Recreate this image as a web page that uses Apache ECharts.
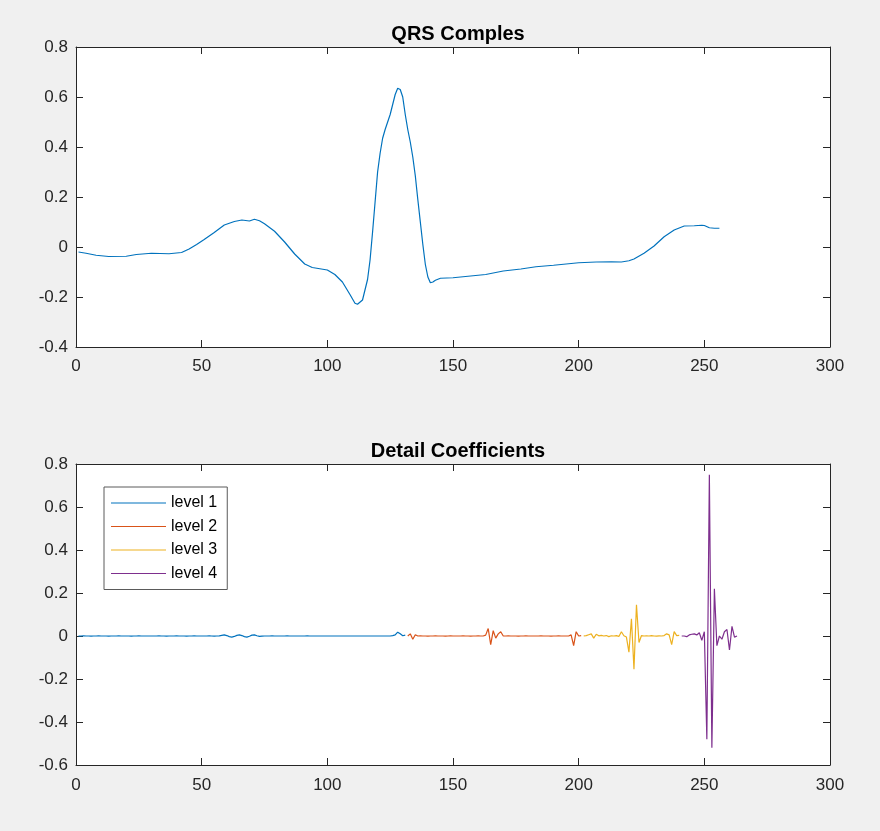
<!DOCTYPE html>
<html>
<head>
<meta charset="utf-8">
<script src="https://cdn.jsdelivr.net/npm/echarts@6/dist/echarts.min.js"></script>
<style>
    html, body { margin: 0; padding: 0; background: #f0f0f0; }
    #chart { width: 880px; height: 831px; }
</style>
</head>
<body>
<div id="chart"></div>
<script>
// top plot: QRS complex, [sample, value]
const qrsX = [1, 4, 8, 13, 20, 24, 30, 37, 42, 45, 48, 51, 55, 59, 63, 66, 69, 71, 73, 75,
    79, 83, 87, 91, 94, 97, 100, 103, 106, 109, 111, 112, 114, 116, 117, 118, 119, 120, 121, 122,
    123, 124, 125, 126, 127, 128, 129, 130, 131, 132, 133, 134, 135, 136, 137, 138, 139, 140, 141, 142,
    143, 145, 150, 157, 163, 170, 177, 183, 190, 200, 207, 213, 217, 220, 222, 226, 230, 234, 238, 242,
    246, 249, 250, 252, 254, 256];
const qrsY = [-0.02, -0.025, -0.033, -0.038, -0.037, -0.03, -0.025, -0.027, -0.022, -0.008, 0.01, 0.03, 0.058, 0.088, 0.102, 0.108, 0.104, 0.111, 0.105, 0.093,
    0.063, 0.02, -0.028, -0.068, -0.082, -0.087, -0.092, -0.11, -0.14, -0.19, -0.225, -0.229, -0.212, -0.13, -0.052, 0.06, 0.18, 0.3, 0.375, 0.435,
    0.47, 0.5, 0.53, 0.57, 0.61, 0.635, 0.63, 0.6, 0.53, 0.47, 0.42, 0.36, 0.285, 0.19, 0.1, 0.01, -0.07, -0.12, -0.143, -0.14,
    -0.133, -0.125, -0.123, -0.116, -0.11, -0.096, -0.088, -0.079, -0.073, -0.063, -0.06, -0.059, -0.06, -0.055, -0.048, -0.025, 0.004, 0.041, 0.068, 0.084,
    0.085, 0.087, 0.086, 0.077, 0.075, 0.075];

// bottom plot: detail coefficients, concatenated level after level
const levelNames = ['level 1', 'level 2', 'level 3', 'level 4'];
const levelStart = [1, 132, 202, 241];
const level1 = [
    -0.001, 0, 0.001, 0, 0, -0.001, 0, 0, 0.001, 0,
    0, 0, -0.001, 0, 0, 0, 0.001, 0, 0, 0,
    0, -0.001, 0, 0, 0.001, 0, 0, 0, 0, 0,
    0, 0, 0.001, 0, 0, -0.001, 0, 0, 0, 0.001,
    0, 0, 0, -0.001, 0, 0, 0.001, 0, 0, 0,
    0, 0, 0.001, 0, -0.001, 0, 0.001,
    0.003, 0.005, 0.002, -0.003, -0.005, -0.002, 0.003, 0.005, 0.002, -0.003, -0.005, -0.001, 0.004, 0.005, 0.001,
    -0.002, -0.001, 0, 0, 0, 0.001, 0, 0,
    0, 0, 0, 0.001, 0, 0, 0, 0, 0, 0,
    0, 0.001, 0, 0, 0, 0, 0, 0, 0, 0,
    0, 0, 0, 0, 0, 0, 0, 0, 0, 0,
    0, 0, 0, 0, 0, 0, 0, 0, 0, 0,
    0, 0, 0, 0, 0, 0.002,
    0.005, 0.018, 0.01, 0.001, 0.004
];
const level2 = [
    0, 0.01, -0.015, 0.006, 0,
    0.001, 0, 0, -0.001, 0, 0, 0.001, 0, 0, 0, -0.001, 0, 0.001, 0, 0, 0, 0, 0.001, 0, 0, -0.001, 0, 0, 0.001, 0,
    0, 0.004, 0.035, -0.04, 0.025, -0.01, 0.01, 0.02, 0,
    0, 0.001, 0, 0, 0, -0.001, 0, 0, 0.001, 0, 0, 0, 0, 0, 0.001, 0, 0, 0, -0.001, 0, 0, 0.001, 0, 0, 0,
    0, 0.005, -0.045, 0.02, 0, 0.002
];
const level3 = [
    0, 0.002, 0.006, 0.01, -0.01, 0.008, 0.001, 0.003, 0, 0.002,
    -0.003, 0.001, 0, 0.002, -0.002, 0.02, 0.001, -0.005, -0.075, 0.08,
    -0.155, 0.145, -0.03, 0.002, 0, 0.001, 0, 0.002, 0, -0.001,
    0.001, 0, 0.002, 0.01, 0.005, -0.04, 0.02, 0.002, 0.003
];
const level4 = [
    0, 0, -0.003, 0.005, 0.008, 0.01, 0.005, 0.015, -0.02, 0.02,
    -0.48, 0.75, -0.52, 0.22, -0.045, 0, -0.015, 0.02, 0.03, -0.065,
    0.045, -0.005, 0
];
const levels = [level1, level2, level3, level4];
const levelColors = ['#0072BD', '#D95319', '#EDB120', '#7E2F8E'];

const xTicks = {min: 0, max: 300, interval: 50};
const yTicksTop = {min: -0.4, max: 0.8, interval: 0.2};
const yTicksBottom = {min: -0.6, max: 0.8, interval: 0.2};

const axisColor = '#262626';
const font = 'Liberation Sans, Helvetica, Arial, sans-serif';

function yLabel(v) {
    return String(+v.toFixed(1));
}

function xAxisPair(grid, margin) {
    let base = {
        type: 'value',
        gridIndex: grid,
        min: xTicks.min,
        max: xTicks.max,
        interval: xTicks.interval,
        splitLine: {show: false},
        axisLine: {show: true, onZero: false, lineStyle: {color: axisColor, width: 1}},
        axisTick: {show: true, inside: true, length: 7, lineStyle: {color: axisColor}}
    };
    return [
        Object.assign({}, base, {
            position: 'bottom',
            axisLabel: {color: axisColor, fontSize: 17, fontFamily: font, margin: margin}
        }),
        Object.assign({}, base, {position: 'top', axisLabel: {show: false}})
    ];
}

function yAxisPair(grid, ticks) {
    let base = {
        type: 'value',
        gridIndex: grid,
        min: ticks.min,
        max: ticks.max,
        interval: ticks.interval,
        splitLine: {show: false},
        axisLine: {show: true, onZero: false, lineStyle: {color: axisColor, width: 1}},
        axisTick: {show: true, inside: true, length: 7, lineStyle: {color: axisColor}}
    };
    return [
        Object.assign({}, base, {
            position: 'left',
            axisLabel: {color: axisColor, fontSize: 17, fontFamily: font, margin: 8, formatter: yLabel}
        }),
        Object.assign({}, base, {position: 'right', axisLabel: {show: false}})
    ];
}

let chart = echarts.init(document.getElementById('chart'), null, {renderer: 'canvas'});

let series = [{
    name: 'QRS',
    type: 'line',
    xAxisIndex: 0,
    yAxisIndex: 0,
    symbol: 'none',
    lineStyle: {color: '#0072BD', width: 1.2},
    data: qrsX.map((x, i) => [x, qrsY[i]])
}];

levels.forEach((vals, k) => {
    series.push({
        name: levelNames[k],
        type: 'line',
        xAxisIndex: 2,
        yAxisIndex: 2,
        symbol: 'none',
        color: levelColors[k],
        lineStyle: {color: levelColors[k], width: 1.2},
        data: vals.map((v, i) => [levelStart[k] + i, v])
    });
});

let option = {
    backgroundColor: '#f0f0f0',
    animation: false,
    title: [{
        text: 'QRS Comples',
        left: 453,
        top: 19,
        textAlign: 'center',
        textStyle: {fontSize: 20, fontWeight: 'bold', color: '#000', fontFamily: font}
    }, {
        text: 'Detail Coefficients',
        left: 453,
        top: 436,
        textAlign: 'center',
        textStyle: {fontSize: 20, fontWeight: 'bold', color: '#000', fontFamily: font}
    }],
    legend: {
        data: levelNames,
        orient: 'vertical',
        left: 104,
        top: 487,
        padding: [8, 10, 8, 7],
        icon: 'rect',
        itemGap: 7.5,
        itemWidth: 55,
        itemHeight: 1.2,
        backgroundColor: '#fff',
        borderColor: '#5a5a5a',
        borderWidth: 1,
        borderRadius: 0,
        textStyle: {fontSize: 16, lineHeight: 14, color: '#000', fontFamily: font}
    },
    grid: [{
        left: 76, top: 47, width: 754, height: 300,
        show: true, backgroundColor: '#fff', borderWidth: 0
    }, {
        left: 76, top: 464, width: 754, height: 301,
        show: true, backgroundColor: '#fff', borderWidth: 0
    }],
    xAxis: xAxisPair(0, 11).concat(xAxisPair(1, 12)),
    yAxis: yAxisPair(0, yTicksTop).concat(yAxisPair(1, yTicksBottom)),
    series: series
};

chart.setOption(option);
</script>
</body>
</html>
